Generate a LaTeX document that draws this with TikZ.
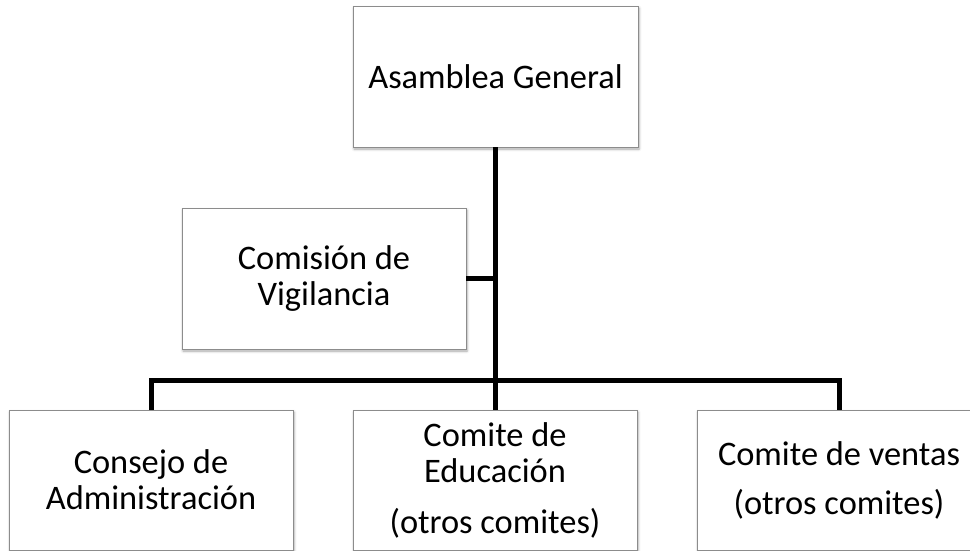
\documentclass[tikz,border=0pt]{standalone}
\usepackage{fontspec}
\setmainfont{Carlito}
\usetikzlibrary{shadows.blur}
\begin{document}
\begin{tikzpicture}[x=1pt,y=-1pt,
  box/.style={draw=black!45, line width=0.8pt, fill=white, rectangle, inner sep=0pt, outer sep=0pt,
    minimum width=284pt, minimum height=141pt, align=center,
    font=\fontsize{34.4}{36}\selectfont,
    blur shadow={shadow xshift=1pt, shadow yshift=-2pt, shadow blur radius=2.5pt, shadow opacity=35}},
  conn/.style={draw=black, line width=5pt, line join=miter}]
\useasboundingbox (0,0) rectangle (970,550);
\clip (0,0) rectangle (970,550);
\node[box, minimum width=285pt] (ag) at (495.5,76.5) {Asamblea General};
\node[box] (cv) at (324,278.5) {Comisión de\\Vigilancia};
\node[box, minimum height=140pt] (ca) at (151,480) {Consejo de\\Administración};
\node[box, minimum height=140pt] (ce) at (495,480) {Comite de\\Educación\\[15pt](otros comites)};
\node[box, minimum height=140pt] (cven) at (839,480) {Comite de ventas\\[13pt](otros comites)};
\coordinate (bus) at (495,380);
\draw[conn] (ag.south) -- (ag.south |- ce.north);
\draw[conn] (cv.east) -- (cv.east -| ag.south);
\draw[conn] (ca.north) |- (bus) -| (cven.north);
\draw[conn] (bus) -- (ce.north);
\end{tikzpicture}
\end{document}
